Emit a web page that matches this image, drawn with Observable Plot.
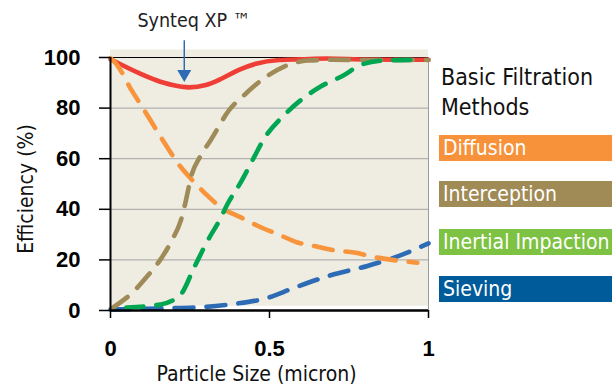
<!DOCTYPE html>
<html>
<head>
<meta charset="utf-8">
<script src="https://cdn.jsdelivr.net/npm/d3@7"></script>
<script src="https://cdn.jsdelivr.net/npm/@observablehq/plot@0.6"></script>
<style>
  html, body { margin: 0; padding: 0; background: #fff; }
  #wrap { position: relative; width: 612px; height: 386px; overflow: hidden; }
  #wrap svg { position: absolute; left: 0; top: 0; }
  .cond { font-family: "Liberation Sans Narrow", "DejaVu Sans Condensed", "Roboto Condensed", sans-serif; font-stretch: condensed; }
  #legtitle { position: absolute; left: 441px; top: 62px; font-size: 23px; line-height: 30px; color: #111; }
  .leg { position: absolute; left: 439px; width: 173px; height: 26px; color: #fff; font-size: 21px; line-height: 26px; padding-left: 4px; box-sizing: border-box; white-space: nowrap; }
</style>
</head>
<body>
<div id="wrap"></div>
<script>
// ---- data ----
const synteqX = [0, 0.09, 0.142, 0.195, 0.247, 0.3, 0.352, 0.404, 0.457, 0.53, 0.6, 0.68, 0.8, 0.9, 1];
const synteqY = [99.3, 93.8, 91.1, 89.1, 88.2, 89.1, 91.8, 95.1, 97.5, 99, 99.3, 99.6, 99.2, 99.1, 99.1];

const diffusionX = [0, 0.012, 0.069, 0.106, 0.158, 0.221, 0.253, 0.305, 0.347, 0.41, 0.462, 0.525, 0.588, 0.651, 0.703, 0.766, 0.84, 0.892, 0.965];
const diffusionY = [99.7, 98.4, 86.5, 79.2, 68.6, 56.7, 52.1, 45.4, 40.8, 36.8, 33.5, 30.2, 26.9, 25.2, 23.8, 22.9, 20.9, 19.9, 18.9];

const interceptionX = [0.006, 0.074, 0.116, 0.158, 0.195, 0.221, 0.237, 0.253, 0.284, 0.315, 0.373, 0.421, 0.483, 0.546, 0.619, 0.703, 0.8, 1.0];
const interceptionY = [1, 7.7, 13.6, 20.3, 28.2, 35.5, 43.4, 52.7, 61.3, 67.3, 79.2, 85.2, 91.8, 96.4, 98.8, 99.1, 99, 99];

const inertialX = [0.05, 0.158, 0.221, 0.263, 0.305, 0.342, 0.368, 0.41, 0.452, 0.483, 0.546, 0.599, 0.661, 0.735, 0.787, 0.861, 0.955];
const inertialY = [1.2, 2.4, 6.4, 17, 27.5, 35.5, 42.1, 50.7, 60.7, 67.9, 77.2, 83.2, 88.5, 93.1, 97.1, 98.8, 99.1];

const sievingX = [0, 0.148, 0.284, 0.389, 0.494, 0.578, 0.703, 0.808, 0.892, 1.0];
const sievingY = [0.4, 0.8, 1.3, 2.6, 5, 9, 14.3, 17.6, 20.9, 26.5];

const yTicks = [0, 20, 40, 60, 80, 100];
const xTicks = [0, 0.5, 1];
const gridLines = [20, 40, 60, 80];
const legendTitle = ["Basic Filtration", "Methods"];
const legendNames = ["Diffusion", "Interception", "Inertial Impaction", "Sieving"];
const legendColors = ["#f7923a", "#a08a55", "#7dc242", "#005b9b"];
const annotation = {label: "Synteq XP \u2122", x: 0.262, y: 114.5, arrowX: 0.232, arrowTop: 106.8, arrowBottom: 95, headY: 93.5};
const panel = {x1: 0, x2: 1, y1: 1.7, y2: 103};

const toRows = (xs, ys) => xs.map((x, i) => ({x, y: ys[i]}));

const condFont = '"Liberation Sans Narrow", "DejaVu Sans Condensed", "Roboto Condensed", sans-serif';
const lineOpts = (color, dash) => ({x: "x", y: "y", stroke: color, strokeWidth: 4.6, strokeLinecap: "round", strokeDasharray: dash, curve: "monotone-x"});

const chart = Plot.plot({
  width: 612,
  height: 386,
  marginLeft: 110,
  marginRight: 184,
  marginTop: 57,
  marginBottom: 76,
  style: {fontFamily: "Liberation Sans, Arial, sans-serif", background: "transparent", overflow: "visible"},
  x: {domain: [0, 1]},
  y: {domain: [0, 100]},
  marks: [
    Plot.rect([panel], {x1: "x1", x2: "x2", y1: "y1", y2: "y2", fill: "#efece1"}),
    Plot.ruleY(gridLines, {stroke: "#a3a3a3", strokeWidth: 1}),
    Plot.ruleX([1], {y1: 0, y2: 100, stroke: "#9a9a9a", strokeWidth: 1}),
    Plot.ruleY([100], {x1: -0.035, x2: 1, stroke: "#000", strokeWidth: 1.2}),
    Plot.line(toRows(synteqX, synteqY), {x: "x", y: "y", stroke: "#ee3e35", strokeWidth: 4.6, curve: "monotone-x"}),
    Plot.line(toRows(sievingX, sievingY), lineOpts("#2d6cb5", "19,13")),
    Plot.line(toRows(diffusionX, diffusionY), lineOpts("#f7943c", "19,13")),
    Plot.line(toRows(interceptionX, interceptionY), lineOpts("#9e8b58", "19,13")),
    Plot.line(toRows(inertialX, inertialY), lineOpts("#00a651", "17,13")),
    Plot.ruleX([0], {y1: 0, y2: 100, stroke: "#000", strokeWidth: 2}),
    Plot.ruleY([0], {stroke: "#000", strokeWidth: 2.5}),
    Plot.axisY({ticks: yTicks, tickSize: 11, tickPadding: 19, fontSize: 22, fontWeight: "bold", label: null, stroke: "#000", strokeWidth: 1.5}),
    Plot.axisX({ticks: xTicks, tickSize: 8, tickPadding: 22, fontSize: 22, fontWeight: "bold", label: null, tickFormat: d => String(d), strokeWidth: 1.5}),
    Plot.text(["Efficiency (%)"], {frameAnchor: "left", textAnchor: "middle", lineAnchor: "middle", dx: -84, dy: 5, rotate: -90, fontSize: 21, fontFamily: condFont, fill: "#111"}),
    Plot.text(["Particle Size (micron)"], {frameAnchor: "bottom", textAnchor: "middle", lineAnchor: "middle", dx: -13, dy: 64, fontSize: 21, fontFamily: condFont, fill: "#111"}),
    Plot.text([annotation], {x: "x", y: "y", text: "label", fontSize: 19.5, fontFamily: condFont, fill: "#222"}),
    Plot.link([annotation], {x1: "arrowX", x2: "arrowX", y1: "arrowTop", y2: "arrowBottom", stroke: "#2d6cb5", strokeWidth: 1.5}),
    Plot.dot([annotation], {x: "arrowX", y: "headY", symbol: "triangle", rotate: 180, r: 5.2, fill: "#2d6cb5", stroke: "none"})
  ]
});

const wrap = document.getElementById("wrap");
wrap.appendChild(chart);

const t = document.createElement("div");
t.id = "legtitle";
t.className = "cond";
t.innerHTML = legendTitle.join("<br>");
wrap.appendChild(t);

const tops = [135, 181, 229, 276];
legendNames.forEach((name, i) => {
  const d = document.createElement("div");
  d.className = "leg cond";
  d.style.top = tops[i] + "px";
  d.style.background = legendColors[i];
  d.textContent = name;
  wrap.appendChild(d);
});
</script>
</body>
</html>
